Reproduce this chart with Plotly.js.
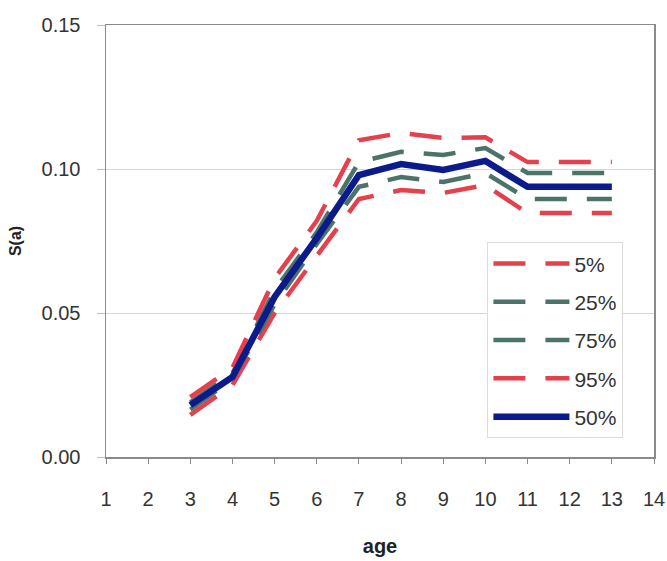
<!DOCTYPE html>
<html>
<head>
<meta charset="utf-8">
<script src="https://cdn.plot.ly/plotly-3.0.1.min.js"></script>
<style>html,body{margin:0;padding:0;background:#fff;} #chart{width:667px;height:561px;}</style>
</head>
<body>
<div id="chart"></div>
<script>
const ages = [3, 4, 5, 6, 7, 8, 9, 10, 11, 12, 13];
const p5  = [0.0146, 0.025, 0.050, 0.070, 0.0896, 0.0927, 0.0917, 0.0944, 0.0847, 0.0847, 0.0847];
const p25 = [0.0165, 0.027, 0.053, 0.074, 0.0938, 0.0972, 0.0955, 0.0986, 0.0896, 0.0896, 0.0896];
const p50 = [0.018, 0.0278, 0.0556, 0.076, 0.0979, 0.1017, 0.0997, 0.1028, 0.0938, 0.0938, 0.0938];
const p75 = [0.019, 0.029, 0.058, 0.078, 0.1024, 0.106, 0.1049, 0.1073, 0.0986, 0.0986, 0.0986];
const p95 = [0.0208, 0.031, 0.062, 0.082, 0.110, 0.1125, 0.1108, 0.111, 0.1024, 0.1024, 0.1024];
const seriesNames = ['5%', '25%', '75%', '95%', '50%'];
const xTicks = [1,2,3,4,5,6,7,8,9,10,11,12,13,14];
const yTicks = [0, 0.05, 0.10, 0.15];

const RED = '#e5404c', GREEN = '#4b7369', BLUE = '#0b1b8c';
const dash = '32px,20px';
function tr(y, name, color, width, d) {
  return {x: ages, y: y, name: name, type: 'scatter', mode: 'lines',
    legendgroup: name,
    line: {color: color, width: width, dash: d}, hoverinfo: 'skip'};
}
const data = [
  tr(p5, seriesNames[0], RED, 4.5, dash),
  tr(p25, seriesNames[1], GREEN, 4.5, dash),
  tr(p75, seriesNames[2], GREEN, 4.5, dash),
  tr(p95, seriesNames[3], RED, 4.5, dash),
  tr(p50, seriesNames[4], BLUE, 6.5, 'solid')
];
const font = 'Liberation Sans, Arial, sans-serif';
const layout = {
  width: 667, height: 561,
  margin: {l: 106, r: 13, t: 25, b: 104},
  paper_bgcolor: '#fff', plot_bgcolor: '#fff',
  font: {family: font, color: '#333'},
  showlegend: true,
  legend: {x: 0.696, y: 0.497, xanchor: 'left', yanchor: 'top',
    bgcolor: '#fff', bordercolor: '#dcdcdc', borderwidth: 1,
    font: {size: 21, family: font, color: '#333'},
    tracegroupgap: 8, itemwidth: 76, traceorder: 'grouped'},
  xaxis: {range: [1, 14], tickvals: xTicks, ticktext: xTicks.map(String),
    showgrid: false, zeroline: false,
    showline: true, linecolor: '#8a8a8a', linewidth: 1.5, mirror: true,
    ticks: 'outside', ticklen: 5, tickcolor: '#8a8a8a',
    ticklabelstandoff: 18,
    tickfont: {size: 20, family: font, color: '#333'},
    title: {text: '<b>age</b>', font: {size: 20, family: font, color: '#222'}, standoff: 30}},
  yaxis: {range: [0, 0.15], tickvals: yTicks, ticktext: ['0.00','0.05','0.10','0.15'],
    showgrid: true, gridcolor: '#d6d6d6', gridwidth: 1, zeroline: false,
    showline: true, linecolor: '#8a8a8a', linewidth: 1.5, mirror: true,
    ticks: 'outside', ticklen: 8, tickcolor: '#bdbdbd',
    ticklabelstandoff: 12,
    tickfont: {size: 20, family: font, color: '#333'},
    title: {text: '<b>S(a)</b>', font: {size: 16, family: font, color: '#222'}, standoff: 16}}
};
Plotly.newPlot('chart', data, layout, {displayModeBar: false, staticPlot: true});
</script>
</body>
</html>
